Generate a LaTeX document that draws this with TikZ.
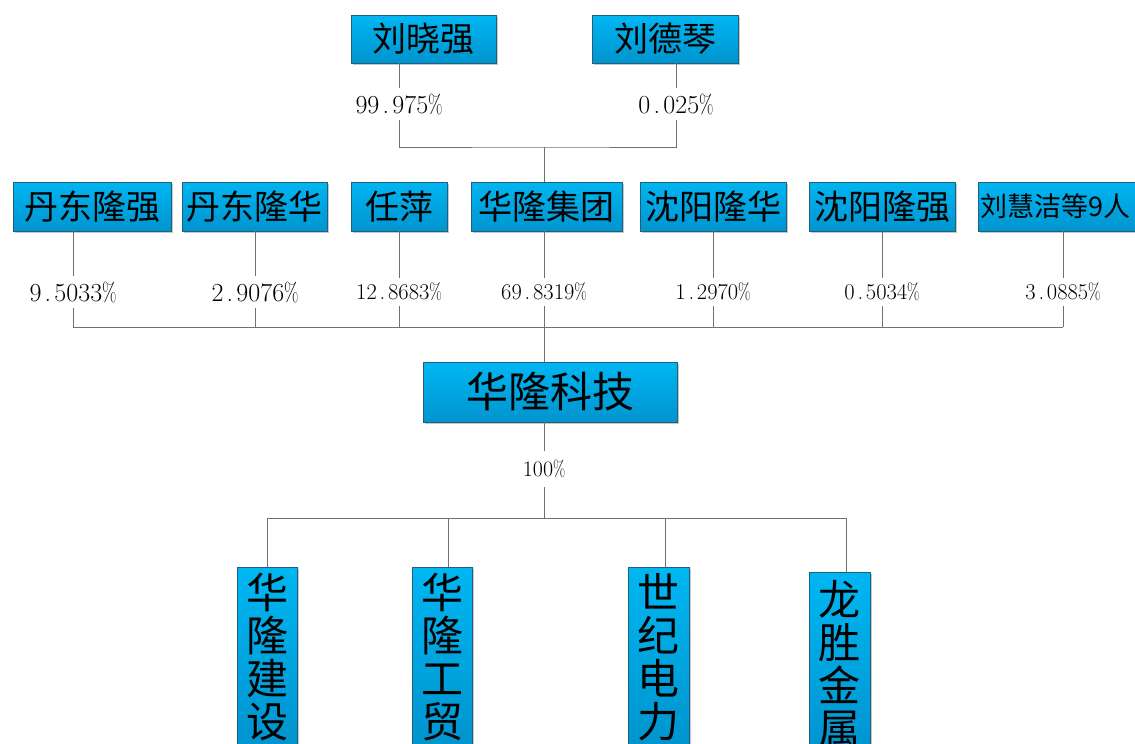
\documentclass[tikz,border=0pt]{standalone}
\usepackage{graphicx}
\usepackage{fontspec}
\newfontfamily\cjk{Noto Sans CJK SC}
\usetikzlibrary{shadows}
\definecolor{boxtop}{RGB}{0,182,242}
\definecolor{boxbot}{RGB}{0,148,206}
\definecolor{boxline}{RGB}{32,96,124}
\definecolor{connc}{RGB}{112,112,112}
\newcommand\hp{\makebox[0.5em]{.}}
\newcommand\pc{\makebox[0.55em]{\scalebox{0.72}[1]{\%}}}
\tikzset{
  box/.style={draw=boxline, line width=0.8pt, top color=boxtop, bottom color=boxbot,
    inner sep=0pt, drop shadow={shadow xshift=1.5pt, shadow yshift=-1.5pt, fill=black, opacity=0.22},
    font=\cjk\fontsize{34}{34}\selectfont},
  rowbox/.style={box, minimum height=49pt},
  vbox/.style={box, anchor=north, minimum width=60pt, align=center,
    font=\cjk\fontsize{42}{43}\selectfont},
  pbig/.style={font=\fontsize{26}{26}\selectfont, inner sep=0pt, minimum height=32pt},
  psmall/.style={font=\fontsize{22.5}{22.5}\selectfont, inner sep=0pt, minimum height=28pt},
  conn/.style={draw=connc, line width=1pt}
}
\begin{document}
\begin{tikzpicture}[x=1pt,y=-1pt]
\clip (0,0) rectangle (1135,744);
% top owners
\node[box, minimum width=145pt, minimum height=48pt] (lxq) at (423.5,39) {刘晓强};
\node[box, minimum width=146pt, minimum height=48pt] (ldq) at (665,39) {刘德琴};
\node[pbig] (p1) at (399,104) {99\hp975\pc};
\node[pbig] (p2) at (676,104) {0\hp025\pc};
\coordinate (j1) at (544,147);
\draw[conn] (p1 |- lxq.south) -- (p1.north);
\draw[conn] (p2 |- ldq.south) -- (p2.north);
\draw[conn] (p1.south) |- (j1) -| (p2.south);
% middle row
\node[rowbox, minimum width=158pt] (ddq) at (92,206.5) {丹东隆强};
\node[rowbox, minimum width=145pt] (ddh) at (254.5,206.5) {丹东隆华};
\node[rowbox, minimum width=96pt] (rp) at (399,206.5) {任萍};
\node[rowbox, minimum width=151pt] (hljt) at (546.5,206.5) {华隆集团};
\node[rowbox, minimum width=146pt] (syh) at (713,206.5) {沈阳隆华};
\node[rowbox, minimum width=146pt] (syq) at (882,206.5) {沈阳隆强};
\node[rowbox, anchor=west, text width=168pt, inner xsep=2pt, align=left,
  font=\cjk\fontsize{27}{27}\selectfont] (lhj) at (978,206.5) {刘慧洁等9人};
\draw[conn] (j1) -- (j1 |- hljt.north);
\node[pbig] (q1) at (73,292) {9\hp5033\pc};
\node[pbig] (q2) at (255,292) {2\hp9076\pc};
\node[psmall] (q3) at (399,292) {12\hp8683\pc};
\node[psmall] (q4) at (544,292) {69\hp8319\pc};
\node[psmall] (q5) at (713,292) {1\hp2970\pc};
\node[psmall] (q6) at (882,292) {0\hp5034\pc};
\node[psmall] (q7) at (1063,292) {3\hp0885\pc};
\coordinate (j2) at (544,327);
\foreach \b/\q in {ddq/q1, ddh/q2, rp/q3, hljt/q4, syh/q5, syq/q6, lhj/q7}{
  \draw[conn] (\q |- \b.south) -- (\q.north);
  \draw[conn] (\q.south) -- (\q.south |- j2);
}
\draw[conn] (q1.south |- j2) -- (q7.south |- j2);
% company
\node[box, minimum width=254pt, minimum height=60pt, font=\cjk\fontsize{42}{42}\selectfont] (hlkj) at (550,392) {华隆科技};
\draw[conn] (j2) -- (j2 |- hlkj.north);
\node[psmall, font=\fontsize{22}{22}\selectfont, minimum height=36pt] (p0) at (544,469) {100\pc};
\draw[conn] (p0 |- hlkj.south) -- (p0.north);
\coordinate (j3) at (544,518);
\draw[conn] (p0.south) -- (j3);
% subsidiaries
\node[vbox, minimum height=180pt] (b1) at (267,567) {华\\隆\\建\\设};
\node[vbox, minimum height=180pt] (b2) at (442,567) {华\\隆\\工\\贸};
\node[vbox, minimum width=61pt, minimum height=180pt] (b3) at (658.5,567) {世\\纪\\电\\力};
\node[vbox, minimum width=61pt, minimum height=183pt] (b4) at (839.5,572) {龙\\胜\\金\\属};
\draw[conn] (j3) -| (b1.north);
\draw[conn] (j3) -| ([xshift=6pt]b2.north);
\draw[conn] (j3) -| ([xshift=6.5pt]b3.north);
\draw[conn] (j3) -| ([xshift=6.5pt]b4.north);
\end{tikzpicture}
\end{document}
